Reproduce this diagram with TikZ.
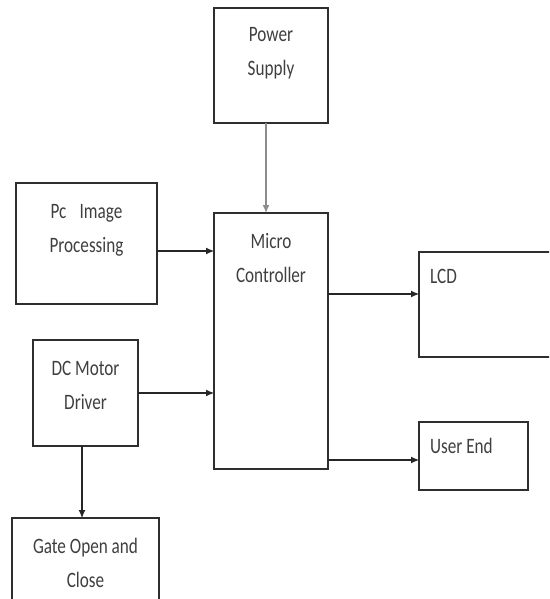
\documentclass[tikz,border=0pt]{standalone}
\usepackage{fontspec}
\setmainfont{Carlito}[FakeStretch=0.78]
\usetikzlibrary{arrows.meta,positioning}
\definecolor{boxline}{HTML}{2E2E2E}
\definecolor{blocktextcol}{HTML}{3F3F3F}
\tikzset{
  blockbox/.style={draw=boxline,line width=1.3pt,inner sep=0pt,outer sep=0pt},
  blocklabel/.style={anchor=north,align=center,inner sep=0pt,text=blocktextcol,
    font=\fontsize{22}{34}\selectfont},
  flowarrow/.style={-{Latex[length=8pt,width=7pt]},line width=1.1pt,draw=black!85},
  powerarrow/.style={flowarrow,draw=black!45,line width=1.4pt}
}
\begin{document}
\begin{tikzpicture}[x=1pt,y=-1pt]
  \useasboundingbox (0,0) rectangle (549,599);
  \clip (0,0) rectangle (549,599);
  \node[blockbox,minimum width=114pt,minimum height=256pt,
    label={[blocklabel,yshift=-20pt]north:Micro\\Controller}] (mc) at (271,341) {};
  \node[blockbox,minimum width=114pt,minimum height=115pt,above=90pt of mc,
    label={[blocklabel,yshift=-19pt]north:Power\\Supply}] (ps) {};
  \node[blockbox,minimum width=141pt,minimum height=121pt,
    label={[blocklabel,yshift=-21pt]north:Pc\hspace{0.6em}Image\\Processing}] (pc) at (86.5,243.5) {};
  \node[blockbox,minimum width=105pt,minimum height=106pt,
    label={[blocklabel,yshift=-21pt]north:DC Motor\\Driver}] (dc) at (85.5,393) {};
  \node[blockbox,minimum width=147pt,minimum height=102pt,below=72pt of dc,
    label={[blocklabel,yshift=-20pt]north:Gate Open and\\Close}] (gate) {};
  \node[blockbox,minimum width=145pt,minimum height=105pt,
    label={[blocklabel,anchor=north west,xshift=11pt,yshift=-17pt]north west:LCD}] (lcd) at (491.5,304.5) {};
  \node[blockbox,minimum width=109pt,minimum height=68pt,below=65pt of lcd.south west,anchor=north west,
    label={[blocklabel,anchor=north west,xshift=11pt,yshift=-16pt]north west:User End}] (ue) {};
  % connectors
  \coordinate (psout) at ([xshift=-5pt]ps.south);
  \coordinate (pcout) at ([yshift=-7.5pt]pc.east);
  \coordinate (lcdin) at ([yshift=10.5pt]lcd.west);
  \coordinate (uein) at ([yshift=-4pt]ue.west);
  \coordinate (dcdown) at ([xshift=-3.5pt]dc.south);
  \draw[powerarrow] (psout) -- (psout |- mc.north);
  \draw[flowarrow] (pcout) -- (pcout -| mc.west);
  \draw[flowarrow] (dc.east) -- (dc.east -| mc.west);
  \draw[flowarrow] (lcdin -| mc.east) -- (lcdin);
  \draw[flowarrow] (uein -| mc.east) -- (uein);
  \draw[flowarrow] (dcdown) -- (dcdown |- gate.north);
\end{tikzpicture}
\end{document}
